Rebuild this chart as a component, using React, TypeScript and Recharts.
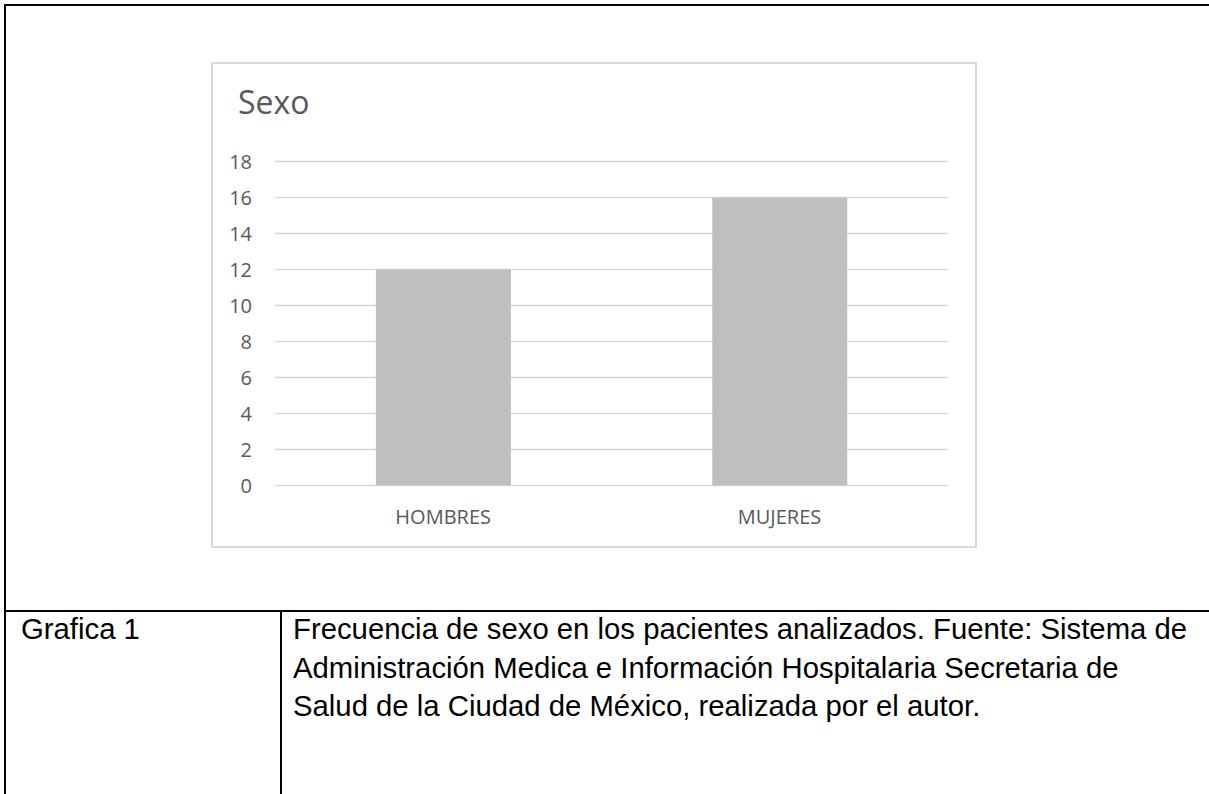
import React from "react";
import { BarChart, Bar, XAxis, YAxis, CartesianGrid } from "recharts";

// categories and counts
const categories = ["HOMBRES", "MUJERES"];
const frecuencia = [12, 16];
const yTicks = [0, 2, 4, 6, 8, 10, 12, 14, 16, 18];

const captionLines = [
  "Frecuencia de sexo en los pacientes analizados. Fuente: Sistema de",
  "Administración Medica e Información Hospitalaria Secretaria de",
  "Salud de la Ciudad de México, realizada por el autor.",
];

const data = categories.map((name, i) => ({ name, value: frecuencia[i] }));

const chartFont = "'Open Sans', Lato, sans-serif";
const tableFont = "'Liberation Sans', Arial, sans-serif";

const cellText: React.CSSProperties = {
  position: "absolute",
  top: 610,
  fontFamily: tableFont,
  fontSize: 29.3,
  lineHeight: "38.5px",
  color: "#000",
  whiteSpace: "nowrap",
};

const App = () => {
  return (
    <div
      style={{
        position: "absolute",
        left: 0,
        top: 0,
        width: 1209,
        height: 794,
        background: "#fff",
        overflow: "hidden",
      }}
    >
      {/* table borders */}
      <div style={{ position: "absolute", left: 4, top: 4, width: 1220, height: 2, background: "#000" }} />
      <div style={{ position: "absolute", left: 4, top: 4, width: 2, height: 800, background: "#000" }} />
      <div style={{ position: "absolute", left: 4, top: 610, width: 1220, height: 2, background: "#000" }} />
      <div style={{ position: "absolute", left: 280, top: 610, width: 2, height: 200, background: "#000" }} />

      {/* chart box */}
      <div
        style={{
          position: "absolute",
          left: 211,
          top: 62,
          width: 766,
          height: 486,
          border: "2px solid #d9d9d9",
          boxSizing: "border-box",
          background: "#fff",
        }}
      >
        <div
          style={{
            position: "absolute",
            left: 25,
            top: 22,
            fontFamily: chartFont,
            fontSize: 32,
            lineHeight: "32px",
            color: "#595959",
          }}
        >
          Sexo
        </div>
        <BarChart
          width={762}
          height={482}
          data={data}
          margin={{ top: 97.5, right: 27.3, left: 0, bottom: 0 }}
          barCategoryGap="30%"
        >
          <CartesianGrid vertical={false} stroke="#d9d9d9" strokeWidth={1.5} />
          <XAxis
            dataKey="name"
            height={60.5}
            axisLine={false}
            tickLine={false}
            tickSize={0}
            tickMargin={24}
            tick={{ fill: "#595959", fontSize: 20, fontFamily: chartFont }}
          />
          <YAxis
            width={62}
            domain={[0, 18]}
            ticks={yTicks}
            interval={0}
            axisLine={false}
            tickLine={false}
            tickSize={0}
            tickMargin={23}
            tick={{ fill: "#595959", fontSize: 20, fontFamily: chartFont }}
          />
          <Bar dataKey="value" fill="#bfbfbf" isAnimationActive={false} />
        </BarChart>
      </div>

      {/* caption row */}
      <div style={{ ...cellText, left: 21 }}>Grafica 1</div>
      <div style={{ ...cellText, left: 293 }}>
        {captionLines.map((line) => (
          <div key={line}>{line}</div>
        ))}
      </div>
    </div>
  );
};

export default App;
